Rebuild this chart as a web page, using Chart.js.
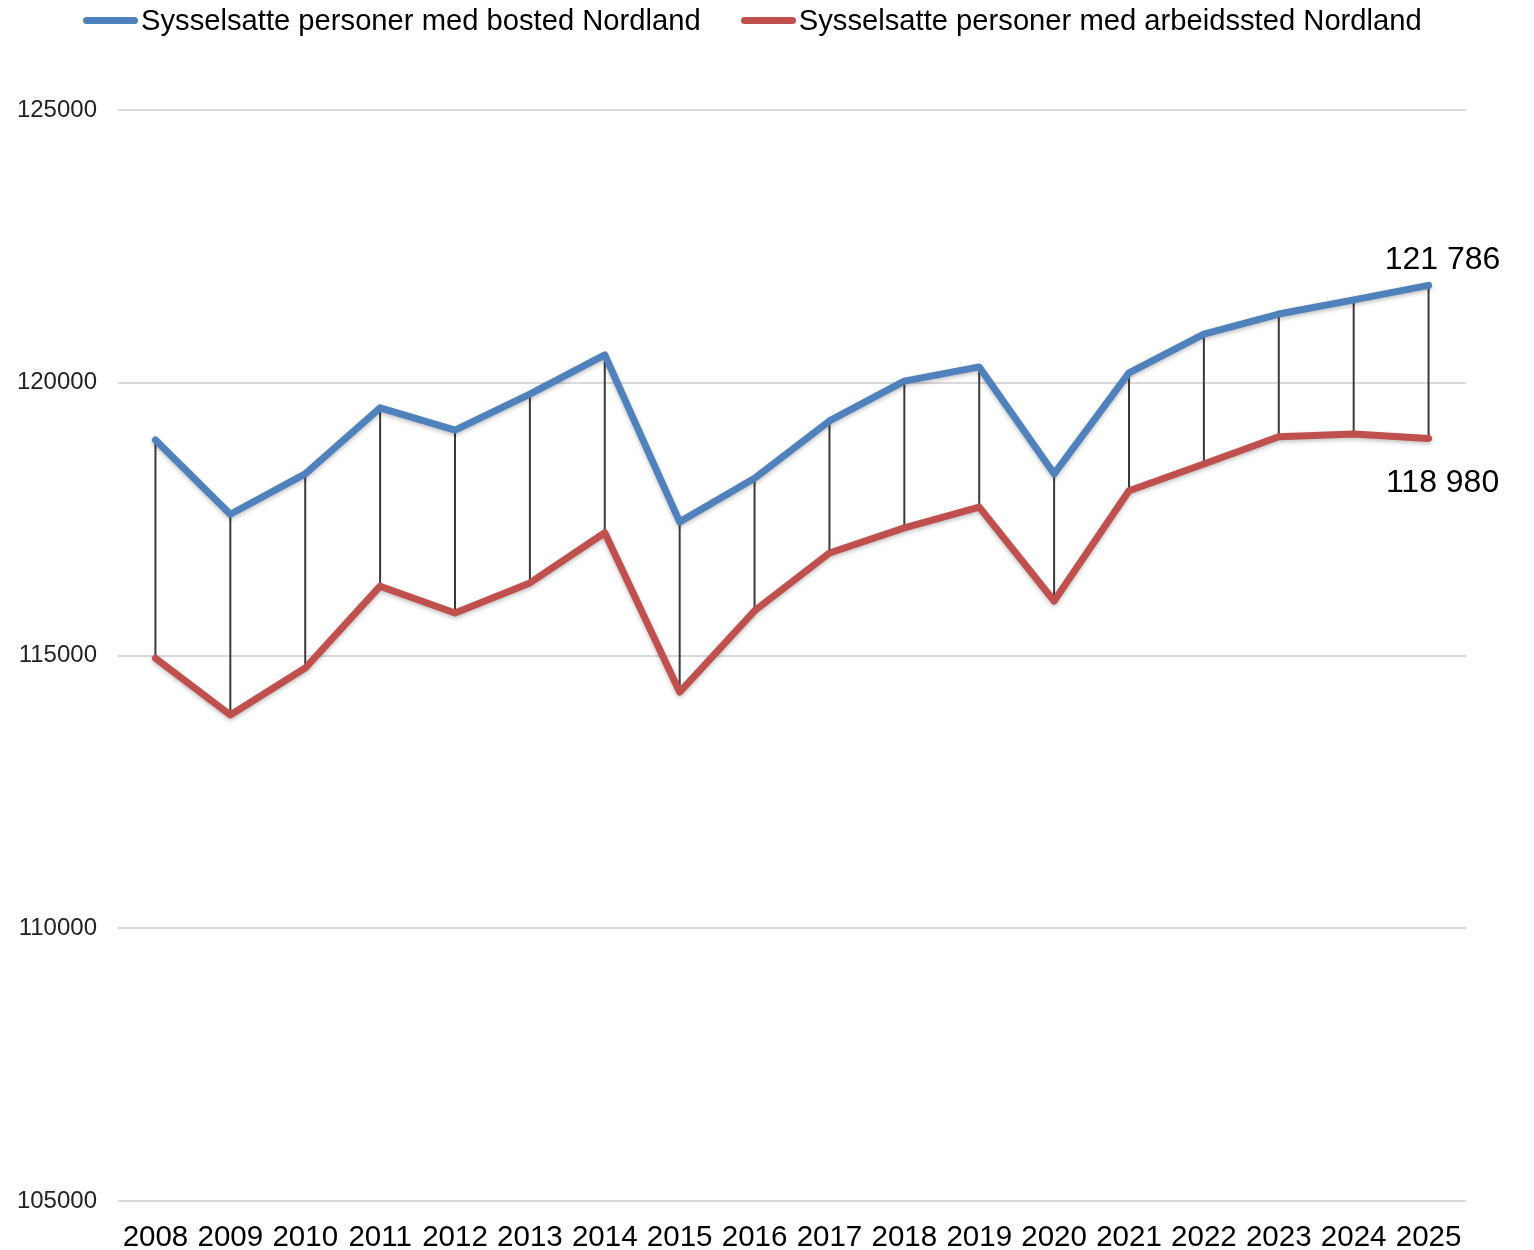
<!DOCTYPE html>
<html>
<head>
<meta charset="utf-8">
<script src="https://cdn.jsdelivr.net/npm/chart.js@4.4.0/dist/chart.umd.min.js"></script>
<style>
  html, body { margin: 0; padding: 0; background: #fff; }
  #wrap { position: relative; width: 1534px; height: 1250px; }
  #legend { position: absolute; left: 83px; top: 4px; display: flex; font-family: "Liberation Sans", Arial, sans-serif; font-size: 29.2px; color: #000; }
  .item { display: flex; align-items: center; margin-right: 40px; }
  .mark { width: 55px; height: 7px; border-radius: 3.5px; margin-right: 3px; }
</style>
</head>
<body>
<div id="wrap">
  <div id="legend"></div>
  <canvas id="grafNordland" width="1534" height="1250"></canvas>
</div>
<script>
// år
const years = ['2008', '2009', '2010', '2011', '2012', '2013', '2014', '2015', '2016',
  '2017', '2018', '2019', '2020', '2021', '2022', '2023', '2024', '2025'];

// sysselsatte med bosted Nordland
const bosted = [118950, 117590, 118330, 119540, 119130, 119790, 120510, 117450, 118250,
  119300, 120030, 120290, 118330, 120180, 120890, 121260, 121520, 121786];

// sysselsatte med arbeidssted Nordland
const arbeidssted = [114950, 113910, 114770, 116270, 115780, 116330, 117250, 114330, 115820,
  116880, 117340, 117720, 116000, 118020, 118510, 119010, 119060, 118980];

const seriesNames = ['Sysselsatte personer med bosted Nordland', 'Sysselsatte personer med arbeidssted Nordland'];
const seriesColors = ['#4f81bd', '#c0504d'];

const yTicks = [105000, 110000, 115000, 120000, 125000];

// legend i html
const legendDiv = document.getElementById('legend');
seriesNames.forEach(function (name, i) {
  const item = document.createElement('div');
  item.className = 'item';
  item.innerHTML = '<span class="mark" style="background:' + seriesColors[i] + '"></span><span>' + name + '</span>';
  legendDiv.appendChild(item);
});

function fmt(v) {
  return String(v).replace(/\B(?=(\d{3})+(?!\d))/g, ' ');
}

// loddrette streker mellom linjene
const dropLines = {
  id: 'dropLines',
  beforeDatasetsDraw: function (chart) {
    const ctx = chart.ctx;
    const x = chart.scales.x;
    const y = chart.scales.y;
    ctx.save();
    ctx.strokeStyle = '#3a3a3a';
    ctx.lineWidth = 2;
    for (let i = 0; i < years.length; i++) {
      const px = x.getPixelForValue(i);
      ctx.beginPath();
      ctx.moveTo(px, y.getPixelForValue(bosted[i]));
      ctx.lineTo(px, y.getPixelForValue(arbeidssted[i]));
      ctx.stroke();
    }
    ctx.restore();
  },
  afterDatasetsDraw: function (chart) {
    const ctx = chart.ctx;
    const x = chart.scales.x;
    const y = chart.scales.y;
    const last = years.length - 1;
    const px = x.getPixelForValue(last) + 14;
    ctx.save();
    ctx.fillStyle = '#000';
    ctx.font = '32px "Liberation Sans", Arial, sans-serif';
    ctx.textAlign = 'center';
    ctx.textBaseline = 'middle';
    ctx.fillText(fmt(bosted[last]), px, y.getPixelForValue(bosted[last]) - 25);
    ctx.fillText(fmt(arbeidssted[last]), px, y.getPixelForValue(arbeidssted[last]) + 45);
    ctx.restore();
  }
};

// litt skygge under linjene
const shadow = {
  id: 'shadow',
  beforeDatasetDraw: function (chart) {
    chart.ctx.save();
    chart.ctx.shadowColor = 'rgba(0,0,0,0.25)';
    chart.ctx.shadowBlur = 4;
    chart.ctx.shadowOffsetY = 2;
  },
  afterDatasetDraw: function (chart) {
    chart.ctx.restore();
  }
};

const ctx = document.getElementById('grafNordland').getContext('2d');
const grafNordland = new Chart(ctx, {
  type: 'line',
  data: {
    labels: years,
    datasets: [{
      label: seriesNames[0],
      data: bosted,
      borderColor: seriesColors[0],
      backgroundColor: seriesColors[0],
      borderWidth: 7,
      pointRadius: 0,
      tension: 0,
      borderCapStyle: 'round',
      borderJoinStyle: 'round'
    }, {
      label: seriesNames[1],
      data: arbeidssted,
      borderColor: seriesColors[1],
      backgroundColor: seriesColors[1],
      borderWidth: 7,
      pointRadius: 0,
      tension: 0,
      borderCapStyle: 'round',
      borderJoinStyle: 'round'
    }]
  },
  options: {
    responsive: false,
    animation: false,
    layout: { padding: { top: 110, right: 68, left: 0, bottom: 0 } },
    plugins: {
      legend: { display: false },
      tooltip: { enabled: false }
    },
    scales: {
      x: {
        offset: true,
        grid: { display: false, drawTicks: false },
        border: { display: false },
        ticks: {
          color: '#000',
          padding: 19,
          maxRotation: 0,
          autoSkip: false,
          font: { family: '"Liberation Sans", Arial, sans-serif', size: 29.5 }
        },
        afterFit: function (scale) { scale.height = 49; }
      },
      y: {
        min: 105000,
        max: 125000,
        afterBuildTicks: function (scale) {
          scale.ticks = yTicks.map(function (v) { return { value: v }; });
        },
        grid: { color: '#d9d9d9', lineWidth: 2, drawTicks: false },
        border: { display: false },
        ticks: {
          color: '#222',
          padding: 21,
          font: { family: '"Liberation Sans", Arial, sans-serif', size: 24 },
          callback: function (v) { return String(v); }
        },
        afterFit: function (scale) { scale.width = 118; }
      }
    }
  },
  plugins: [dropLines, shadow]
});
</script>
</body>
</html>
